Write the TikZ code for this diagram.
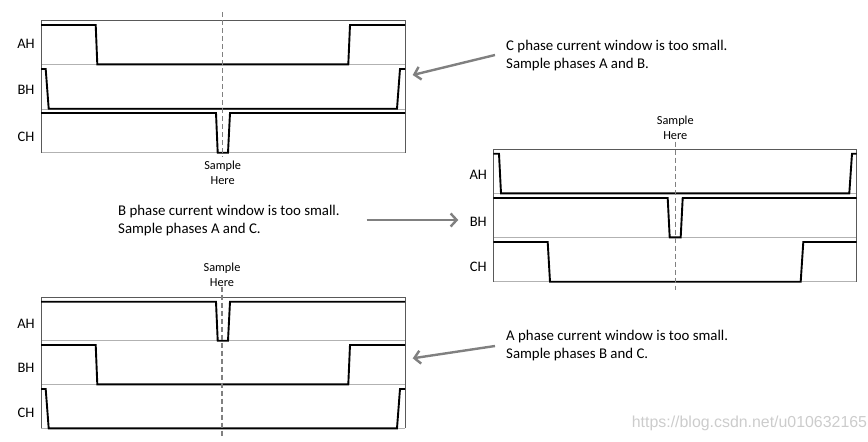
\documentclass[tikz,border=0pt]{standalone}
\usepackage{fontspec}
\setmainfont{Carlito}
\newfontfamily\wmfont{Liberation Sans}
\usetikzlibrary{arrows.meta}
\tikzset{
  frame/.style={draw=black!65, line width=0.9pt},
  sepline/.style={draw=black!30, line width=0.9pt},
  sig/.style={line width=1.9pt, line join=miter},
  samp/.style={draw=black!50, line width=1.3pt, dash pattern=on 5pt off 3pt},
  callout/.style={draw=black!50, line width=2.4pt, -{Straight Barb[length=6pt,width=13pt]}},
  phlabel/.style={font=\fontsize{14.5}{17}\selectfont, inner sep=0pt},
  samplabel/.style={font=\fontsize{12.3}{15}\selectfont, align=center, inner sep=0pt},
  note/.style={font=\fontsize{14.85}{18.3}\selectfont, align=left, inner sep=0pt, anchor=west},
}
\begin{document}
\begin{tikzpicture}[x=1pt,y=-1pt]
\useasboundingbox (0,0) rectangle (868,442);
% ---------- Panel 1 (top left) ----------
\draw[sepline] (41,64.3) -- (405,64.3) (41,109) -- (405,109) (41,152.7) -- (405,152.7);
\draw[frame] (41,152.7) -- (41,20) -- (405,20) -- (405,152.7);
\draw[sig] (41,25) -- (95.7,25) -- (97.3,64.3) -- (348.3,64.3) -- (350,25) -- (405,25);
\draw[sig] (41,69) -- (45.7,69) -- (48.7,108.7) -- (397,108.7) -- (400,69) -- (405,69);
\draw[sig] (41,113) -- (216,113) -- (217.7,152.7) -- (228,152.7) -- (230,113) -- (405,113);
\draw[samp] (222.7,12) -- (222.7,157);
\node[phlabel] (p1a) at (26,44) {AH};
\node[phlabel] (p1b) at (26,90) {BH};
\node[phlabel] (p1c) at (26,137) {CH};
\node[samplabel] (s1) at (222.7,172.5) {Sample\\Here};
% ---------- Panel 2 (right) ----------
\draw[sepline] (493.3,193.3) -- (856.7,193.3) (493.3,237.3) -- (856.7,237.3) (493.3,281.7) -- (856.7,281.7);
\draw[frame] (493.3,281.7) -- (493.3,149.3) -- (856.7,149.3) -- (856.7,281.7);
\draw[sig] (493.3,153.7) -- (499,153.7) -- (501,193.3) -- (849.3,193.3) -- (852,153.7) -- (856.7,153.7);
\draw[sig] (493.3,198) -- (667.7,198) -- (669.7,237.3) -- (680.7,237.3) -- (682.7,198) -- (856.7,198);
\draw[sig] (493.3,242) -- (547.7,242) -- (550,281.7) -- (800.7,281.7) -- (803.3,242) -- (856.7,242);
\draw[samp] (675.3,141.7) -- (675.3,290);
\node[phlabel] (p2a) at (478.3,175) {AH};
\node[phlabel] (p2b) at (478.3,221.7) {BH};
\node[phlabel] (p2c) at (478.3,266.7) {CH};
\node[samplabel] (s2) at (675.3,127.5) {Sample\\Here};
% ---------- Panel 3 (bottom left) ----------
\draw[sepline] (41,340.7) -- (405,340.7) (41,384.3) -- (405,384.3) (41,428.3) -- (405,428.3);
\draw[frame] (41,428.3) -- (41,297.3) -- (405,297.3) -- (405,428.3);
\draw[sig] (41,301.7) -- (216,301.7) -- (217.7,340.7) -- (228,340.7) -- (230,301.7) -- (405,301.7);
\draw[sig] (41,345) -- (95.7,345) -- (97.3,384.3) -- (348.3,384.3) -- (350,345) -- (405,345);
\draw[sig] (41,389) -- (45.7,389) -- (48.7,428.3) -- (397,428.3) -- (400,389) -- (405,389);
\draw[samp] (222,286.7) -- (222,436.7);
\node[phlabel] (p3a) at (26,324.3) {AH};
\node[phlabel] (p3b) at (26,368.3) {BH};
\node[phlabel] (p3c) at (26,413.3) {CH};
\node[samplabel] (s3) at (222,274.5) {Sample\\Here};
% ---------- Notes and arrows ----------
\node[note] (t1) at (506,55.2) {C phase current window is too small.\\Sample phases A and B.};
\node[note] (t2) at (118,220.2) {B phase current window is too small.\\Sample phases A and C.};
\node[note] (t3) at (506,345.8) {A phase current window is too small.\\Sample phases B and C.};
\coordinate (a1s) at (495,55);
\coordinate (a1e) at (412.7,75);
\coordinate (a2s) at (366.7,220);
\coordinate (a2e) at (458.3,220);
\coordinate (a3s) at (495,346);
\coordinate (a3e) at (412.7,358.3);
\draw[callout] (a1s) -- (a1e);
\draw[callout] (a2s) -- (a2e);
\draw[callout] (a3s) -- (a3e);
% watermark
\node[font=\wmfont\fontsize{15.9}{18}\selectfont, text=black!20, anchor=west, inner sep=0pt] (wm) at (631.7,423.3) {https://blog.csdn.net/u010632165};
\end{tikzpicture}
\end{document}
